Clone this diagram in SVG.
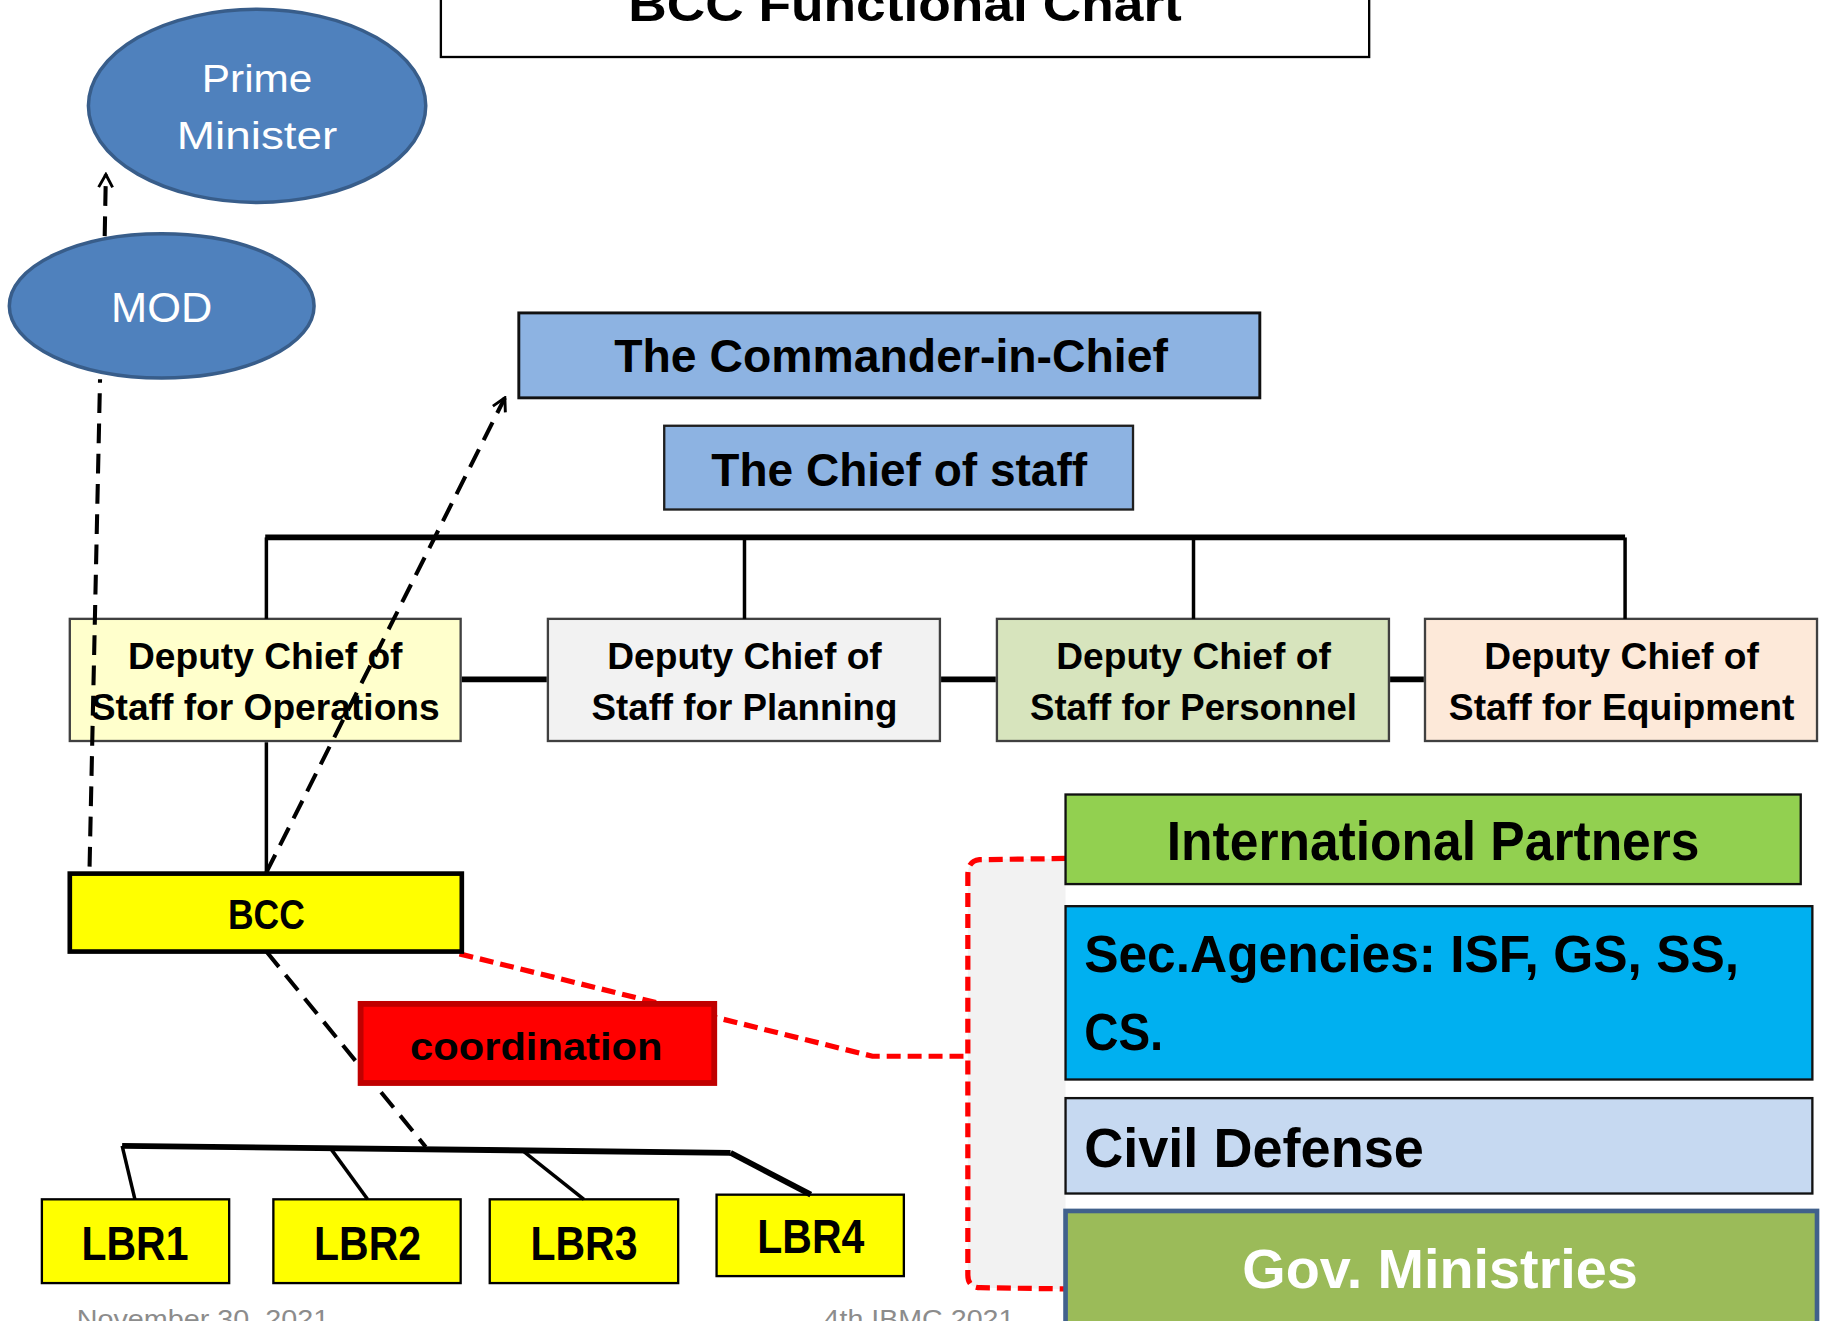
<svg xmlns="http://www.w3.org/2000/svg" width="1824" height="1321" viewBox="0 0 1824 1321">
<defs>
<style>
text{font-family:"Liberation Sans",Arial,sans-serif;}
.b{font-weight:bold;fill:#000;}
.c{text-anchor:middle;}
.w{fill:#fff;}
.dep{font-size:32px;font-weight:bold;fill:#000;text-anchor:middle;}
.lbr{font-size:41px;font-weight:bold;fill:#000;text-anchor:middle;}
.lbrbox{fill:#ffff00;stroke:#000;stroke-width:2;}
.depbox{stroke:#404040;stroke-width:2;}
.solid{fill:none;stroke:#000;stroke-width:3;}
.thick{fill:none;stroke:#000;stroke-width:5;}
.dash{fill:none;stroke:#000;stroke-width:3.5;stroke-dasharray:17,9;}
.rdash{fill:none;stroke:#ff0000;stroke-width:4.5;stroke-dasharray:12,6;}
.ell{fill:#4f81bd;stroke:#385d8a;stroke-width:3;}
.foot{font-size:22px;fill:#8c8c8c;}
</style>
<marker id="arr" markerWidth="14" markerHeight="14" refX="12" refY="7" orient="auto" markerUnits="userSpaceOnUse">
<path d="M1,1 L12,7 L1,13" fill="none" stroke="#000" stroke-width="2.5"/>
</marker>
</defs>
<rect x="0" y="0" width="1824" height="1321" fill="#fff"/>
<g transform="scale(1.163265)">
<g id="title">
<rect x="379" y="-5" width="798" height="54" fill="#fff" stroke="#000" stroke-width="2"/>
<text class="b c" x="778" y="18" font-size="42" textLength="476" lengthAdjust="spacingAndGlyphs">BCC Functional Chart</text>
</g>
<g id="prime-minister">
<ellipse class="ell" cx="221" cy="91" rx="145" ry="83"/>
<text class="c w" x="221" y="79" font-size="34" textLength="95" lengthAdjust="spacingAndGlyphs">Prime</text>
<text class="c w" x="221" y="128" font-size="34" textLength="138" lengthAdjust="spacingAndGlyphs">Minister</text>
</g>
<g id="mod">
<ellipse class="ell" cx="139" cy="263" rx="131" ry="62"/>
<text class="c w" x="139" y="277" font-size="36" textLength="87" lengthAdjust="spacingAndGlyphs">MOD</text>
</g>
<g id="commander">
<rect x="446" y="269" width="637" height="73" fill="#8db3e2" stroke="#111" stroke-width="2.5"/>
<text class="b c" x="766" y="320" font-size="40" textLength="476" lengthAdjust="spacingAndGlyphs">The Commander-in-Chief</text>
</g>
<g id="chief-of-staff">
<rect x="571" y="366" width="403" height="72" fill="#8db3e2" stroke="#1f1f1f" stroke-width="2"/>
<text class="b c" x="773" y="418" font-size="40" textLength="323" lengthAdjust="spacingAndGlyphs">The Chief of staff</text>
</g>
<g id="dcs-operations">
<rect class="depbox" x="60" y="532" width="336" height="105" fill="#ffffcc"/>
<text class="dep" x="228" y="575" textLength="236" lengthAdjust="spacingAndGlyphs">Deputy Chief of</text>
<text class="dep" x="228" y="619" textLength="300" lengthAdjust="spacingAndGlyphs">Staff for Operations</text>
</g>
<g id="dcs-planning">
<rect class="depbox" x="471" y="532" width="337" height="105" fill="#f2f2f2"/>
<text class="dep" x="640" y="575" textLength="236" lengthAdjust="spacingAndGlyphs">Deputy Chief of</text>
<text class="dep" x="640" y="619" textLength="263" lengthAdjust="spacingAndGlyphs">Staff for Planning</text>
</g>
<g id="dcs-personnel">
<rect class="depbox" x="857" y="532" width="337" height="105" fill="#d7e4bd"/>
<text class="dep" x="1026" y="575" textLength="236" lengthAdjust="spacingAndGlyphs">Deputy Chief of</text>
<text class="dep" x="1026" y="619" textLength="281" lengthAdjust="spacingAndGlyphs">Staff for Personnel</text>
</g>
<g id="dcs-equipment">
<rect class="depbox" x="1225" y="532" width="337" height="105" fill="#fde9d9"/>
<text class="dep" x="1394" y="575" textLength="236" lengthAdjust="spacingAndGlyphs">Deputy Chief of</text>
<text class="dep" x="1394" y="619" textLength="297" lengthAdjust="spacingAndGlyphs">Staff for Equipment</text>
</g>
<g id="lbr1">
<rect class="lbrbox" x="36" y="1031" width="161" height="72"/>
<text class="lbr" x="116" y="1083" textLength="92" lengthAdjust="spacingAndGlyphs">LBR1</text>
</g>
<g id="lbr2">
<rect class="lbrbox" x="235" y="1031" width="161" height="72"/>
<text class="lbr" x="316" y="1083" textLength="92" lengthAdjust="spacingAndGlyphs">LBR2</text>
</g>
<g id="lbr3">
<rect class="lbrbox" x="421" y="1031" width="162" height="72"/>
<text class="lbr" x="502" y="1083" textLength="92" lengthAdjust="spacingAndGlyphs">LBR3</text>
</g>
<g id="lbr4">
<rect class="lbrbox" x="616" y="1027" width="161" height="70"/>
<text class="lbr" x="697" y="1077" textLength="92" lengthAdjust="spacingAndGlyphs">LBR4</text>
</g>
<g id="connectors">
<line class="thick" x1="228" y1="462" x2="1397" y2="462"/>
<line class="solid" x1="229" y1="462" x2="229" y2="532"/>
<line class="solid" x1="640" y1="462" x2="640" y2="532"/>
<line class="solid" x1="1026" y1="462" x2="1026" y2="532"/>
<line class="solid" x1="1397" y1="462" x2="1397" y2="532"/>
<line class="thick" x1="397" y1="584" x2="470" y2="584"/>
<line class="thick" x1="809" y1="584" x2="856" y2="584"/>
<line class="thick" x1="1195" y1="584" x2="1224" y2="584"/>
<line class="solid" x1="229" y1="638" x2="229" y2="751"/>
<line class="dash" x1="90" y1="203" x2="91" y2="150" marker-end="url(#arr)"/>
<line class="dash" x1="77" y1="745" x2="86" y2="326"/>
<line class="dash" x1="229" y1="750" x2="434" y2="342" marker-end="url(#arr)"/>
<line class="dash" x1="229" y1="818" x2="366" y2="986"/>
<line class="thick" x1="105" y1="985" x2="628" y2="991"/>
<line class="solid" x1="105" y1="985" x2="116" y2="1031"/>
<line class="solid" x1="284" y1="987" x2="316" y2="1031"/>
<line class="solid" x1="449" y1="989" x2="502" y2="1031"/>
<line class="thick" x1="628" y1="991" x2="697" y2="1027"/>
<path d="M916,738 L842,739 Q832,740 832,752 L832,1096 Q832,1107 843,1107 L916,1108 Z" fill="#f2f2f2" stroke="none"/>
<path class="rdash" d="M916,738 L842,739 Q832,740 832,752 L832,1096 Q832,1107 843,1107 L916,1108"/>
<polyline class="rdash" points="395,820 750,908 832,908"/>
</g>
<g id="bcc">
<rect x="60" y="751" width="337" height="67" fill="#ffff00" stroke="#000" stroke-width="4"/>
<text class="b c" x="229" y="799" font-size="36" textLength="66" lengthAdjust="spacingAndGlyphs">BCC</text>
</g>
<g id="coordination">
<rect x="310" y="863" width="304" height="68" fill="#ff0000" stroke="#c00000" stroke-width="5"/>
<text class="b c" x="461" y="911" font-size="34" textLength="217" lengthAdjust="spacingAndGlyphs">coordination</text>
</g>
<g id="international-partners">
<rect x="916" y="683" width="632" height="77" fill="#92d050" stroke="#111" stroke-width="2"/>
<text class="b c" x="1232" y="739" font-size="47" textLength="458" lengthAdjust="spacingAndGlyphs">International Partners</text>
</g>
<g id="sec-agencies">
<rect x="916" y="779" width="642" height="149" fill="#00b0f0" stroke="#111" stroke-width="2"/>
<text class="b" x="932" y="836" font-size="45" textLength="563" lengthAdjust="spacingAndGlyphs">Sec.Agencies: ISF, GS, SS,</text>
<text class="b" x="932" y="903" font-size="45" textLength="68" lengthAdjust="spacingAndGlyphs">CS.</text>
</g>
<g id="civil-defense">
<rect x="916" y="944" width="642" height="82" fill="#c6d9f1" stroke="#111" stroke-width="2"/>
<text class="b" x="932" y="1003" font-size="47" textLength="292" lengthAdjust="spacingAndGlyphs">Civil Defense</text>
</g>
<g id="gov-ministries">
<rect x="916" y="1041" width="646" height="110" fill="#9bbb59" stroke="#41618c" stroke-width="4"/>
<text class="b c w" x="1238" y="1107" font-size="48" textLength="340" lengthAdjust="spacingAndGlyphs">Gov. Ministries</text>
</g>
<g id="footer">
<text class="foot" x="66" y="1142" textLength="217" lengthAdjust="spacingAndGlyphs">November 30, 2021</text>
<text class="foot" x="708" y="1142" textLength="164" lengthAdjust="spacingAndGlyphs">4th IBMC 2021</text>
</g>
</g>
</svg>
